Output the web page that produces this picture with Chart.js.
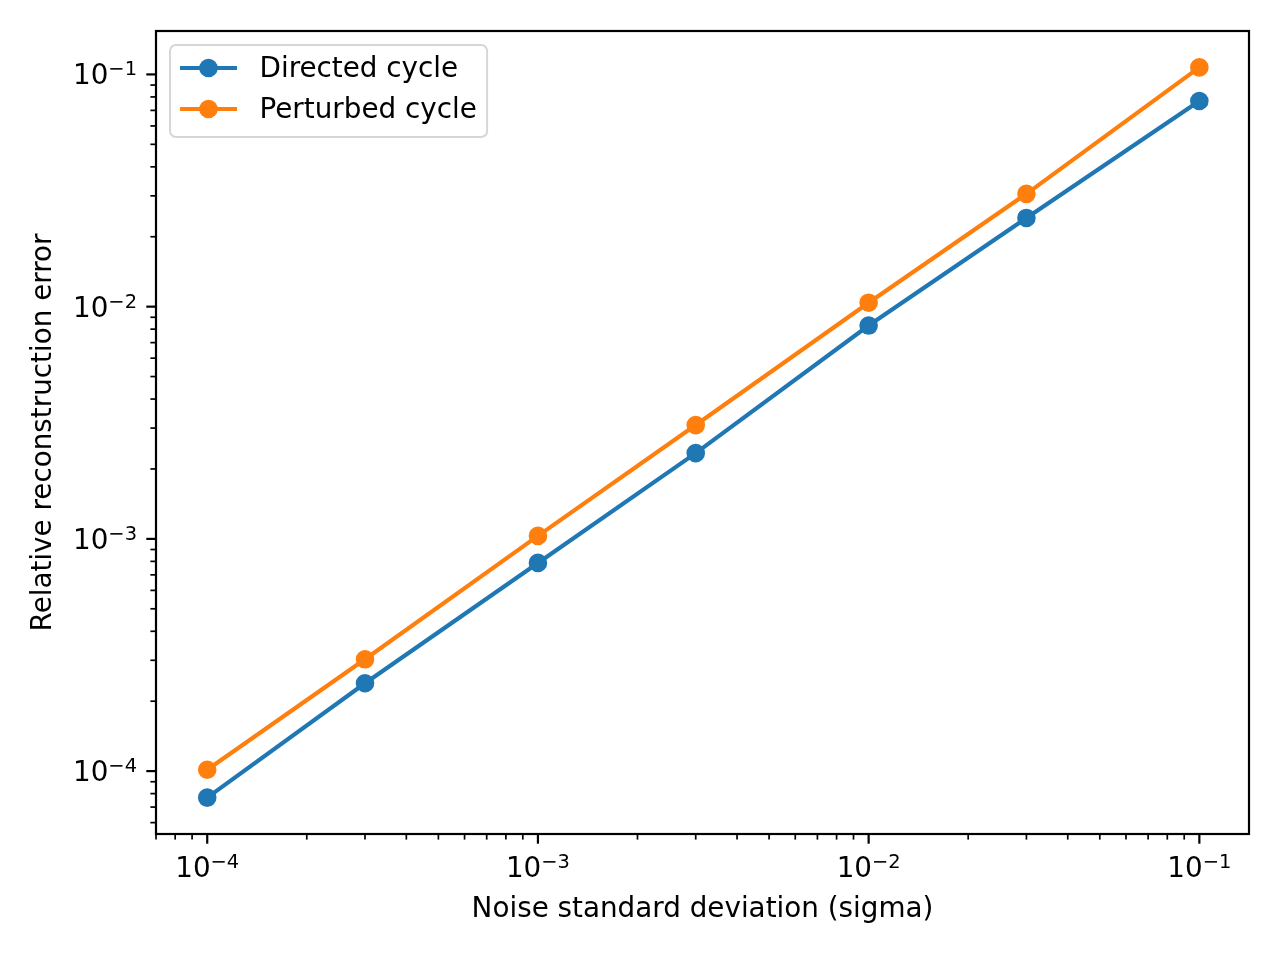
<!DOCTYPE html>
<html>
<head>
<meta charset="utf-8">
<script src="https://cdn.jsdelivr.net/npm/chart.js@4.4.1/dist/chart.umd.min.js"></script>
<style>
  html, body { margin: 0; padding: 0; background: #fff; }
  #wrap { width: 1280px; height: 960px; }
</style>
</head>
<body>
<div id="wrap"><canvas id="errorChart" width="1280" height="960"></canvas></div>
<script>
const sigmaValues = [1e-4, 3e-4, 1e-3, 3e-3, 1e-2, 3e-2, 1e-1];
const directedError = [7.69e-5, 2.39e-4, 7.88e-4, 2.34e-3, 8.29e-3, 2.41e-2, 7.68e-2];
const perturbedError = [1.014e-4, 3.03e-4, 1.03e-3, 3.09e-3, 1.04e-2, 3.06e-2, 1.072e-1];
const seriesNames = ["Directed cycle", "Perturbed cycle"];
const seriesColors = ["#1f77b4", "#ff7f0e"];
// tick labels as [base, exponent]
const xTickValues = [1e-4, 1e-3, 1e-2, 1e-1];
const xTickLabels = [["10", "−4"], ["10", "−3"], ["10", "−2"], ["10", "−1"]];
const yTickValues = [1e-4, 1e-3, 1e-2, 1e-1];
const yTickLabels = [["10", "−4"], ["10", "−3"], ["10", "−2"], ["10", "−1"]];
const xLimits = [7.08e-5, 0.1413];
const yLimits = [5.36e-5, 0.1538];

const FONT = "'DejaVu Sans', sans-serif";
const FS = 27.8;

Chart.defaults.font.family = FONT;
Chart.defaults.color = "#000";

// 1..9 x 10^n inside the axis range, like matplotlib's log locator
function logTicks(scale) {
  const ticks = [];
  const lo = Math.floor(Math.log10(scale.min));
  const hi = Math.ceil(Math.log10(scale.max));
  for (let e = lo; e <= hi; e++) {
    for (let m = 1; m <= 9; m++) {
      const v = m * Math.pow(10, e);
      if (v >= scale.min && v <= scale.max) ticks.push({ value: v });
    }
  }
  scale.ticks = ticks;
}

function isDecade(v) {
  const l = Math.log10(v);
  return Math.abs(l - Math.round(l)) < 1e-6;
}

// "10" with a raised, smaller exponent (mathtext style)
function drawPower(ctx, parts, x, baseline, align) {
  const small = FS * 0.7 + "px " + FONT;
  const big = FS + "px " + FONT;
  ctx.font = big;
  const wb = ctx.measureText(parts[0]).width;
  ctx.font = small;
  const we = ctx.measureText(parts[1]).width;
  const x0 = align === "center" ? x - (wb + we) / 2 : x - (wb + we);
  ctx.textAlign = "left";
  ctx.textBaseline = "alphabetic";
  ctx.font = big;
  ctx.fillText(parts[0], x0, baseline);
  ctx.font = small;
  ctx.fillText(parts[1], x0 + wb, baseline - 9);
}

const axesFrame = {
  id: "axesFrame",
  afterDatasetsDraw(chart) {
    const { ctx, chartArea: a, scales } = chart;
    ctx.save();
    ctx.strokeStyle = "#000";
    scales.x.ticks.forEach((t) => {
      const major = isDecade(t.value);
      const p = scales.x.getPixelForValue(t.value);
      ctx.lineWidth = major ? 2.2 : 1.7;
      ctx.beginPath();
      ctx.moveTo(p, a.bottom);
      ctx.lineTo(p, a.bottom + (major ? 9.7 : 5.6));
      ctx.stroke();
    });
    scales.y.ticks.forEach((t) => {
      const major = isDecade(t.value);
      const p = scales.y.getPixelForValue(t.value);
      ctx.lineWidth = major ? 2.2 : 1.7;
      ctx.beginPath();
      ctx.moveTo(a.left, p);
      ctx.lineTo(a.left - (major ? 9.7 : 5.6), p);
      ctx.stroke();
    });
    ctx.lineWidth = 2.2;
    ctx.strokeRect(a.left, a.top, a.right - a.left, a.bottom - a.top);

    ctx.fillStyle = "#000";
    xTickValues.forEach((v, i) => {
      drawPower(ctx, xTickLabels[i], scales.x.getPixelForValue(v), a.bottom + 43, "center");
    });
    yTickValues.forEach((v, i) => {
      drawPower(ctx, yTickLabels[i], a.left - 19, scales.y.getPixelForValue(v) + 10, "right");
    });
    ctx.restore();
  },
};

const innerLegend = {
  id: "innerLegend",
  afterDraw(chart) {
    const { ctx, chartArea: a } = chart;
    const left = a.left + 14;
    const top = a.top + 14;
    ctx.save();
    ctx.font = FS + "px " + FONT;
    const textW = Math.max(...chart.data.datasets.map((d) => ctx.measureText(d.label).width));
    const w = 11 + 55.6 + 22.2 + textW + 11;
    const h = 92;
    ctx.beginPath();
    ctx.roundRect(left, top, w, h, 6);
    ctx.fillStyle = "rgba(255,255,255,0.8)";
    ctx.fill();
    ctx.lineWidth = 2;
    ctx.strokeStyle = "#d6d6d6";
    ctx.stroke();
    chart.data.datasets.forEach((d, i) => {
      const cy = top + 23 + i * 41;
      const x0 = left + 10;
      ctx.strokeStyle = d.borderColor;
      ctx.lineWidth = 4.2;
      ctx.beginPath();
      ctx.moveTo(x0, cy);
      ctx.lineTo(x0 + 57, cy);
      ctx.stroke();
      ctx.fillStyle = d.borderColor;
      ctx.beginPath();
      ctx.arc(x0 + 28.5, cy, 9.3, 0, Math.PI * 2);
      ctx.fill();
      ctx.fillStyle = "#000";
      ctx.textAlign = "left";
      ctx.textBaseline = "alphabetic";
      ctx.fillText(d.label, left + 89.5, cy + 9);
    });
    ctx.restore();
  },
};

function makeDataset(i, values, order) {
  return {
    label: seriesNames[i],
    data: sigmaValues.map((x, k) => ({ x: x, y: values[k] })),
    borderColor: seriesColors[i],
    backgroundColor: seriesColors[i],
    pointBackgroundColor: seriesColors[i],
    pointBorderColor: seriesColors[i],
    borderWidth: 4.2,
    pointRadius: 8.3,
    pointBorderWidth: 2,
    tension: 0,
    fill: false,
    order: order,
  };
}

new Chart(document.getElementById("errorChart"), {
  type: "line",
  data: {
    datasets: [makeDataset(0, directedError, 2), makeDataset(1, perturbedError, 1)],
  },
  options: {
    responsive: false,
    devicePixelRatio: 1,
    animation: false,
    layout: { padding: { left: 0, top: 31, right: 31, bottom: 0 } },
    plugins: { legend: { display: false }, tooltip: { enabled: false } },
    scales: {
      x: {
        type: "logarithmic",
        min: xLimits[0],
        max: xLimits[1],
        afterBuildTicks: logTicks,
        afterFit: (s) => { s.height = 126; },
        border: { display: false },
        grid: { display: false },
        ticks: { display: false, autoSkip: false },
        title: {
          display: true,
          text: "Noise standard deviation (sigma)",
          color: "#000",
          font: { family: FONT, size: FS },
          padding: { top: 0, bottom: 34 },
        },
      },
      y: {
        type: "logarithmic",
        min: yLimits[0],
        max: yLimits[1],
        afterBuildTicks: logTicks,
        afterFit: (s) => { s.width = 156; },
        border: { display: false },
        grid: { display: false },
        ticks: { display: false, autoSkip: false },
        title: {
          display: true,
          text: "Relative reconstruction error",
          color: "#000",
          font: { family: FONT, size: FS },
          padding: { top: 27, bottom: 0 },
        },
      },
    },
  },
  plugins: [axesFrame, innerLegend],
});
</script>
</body>
</html>
